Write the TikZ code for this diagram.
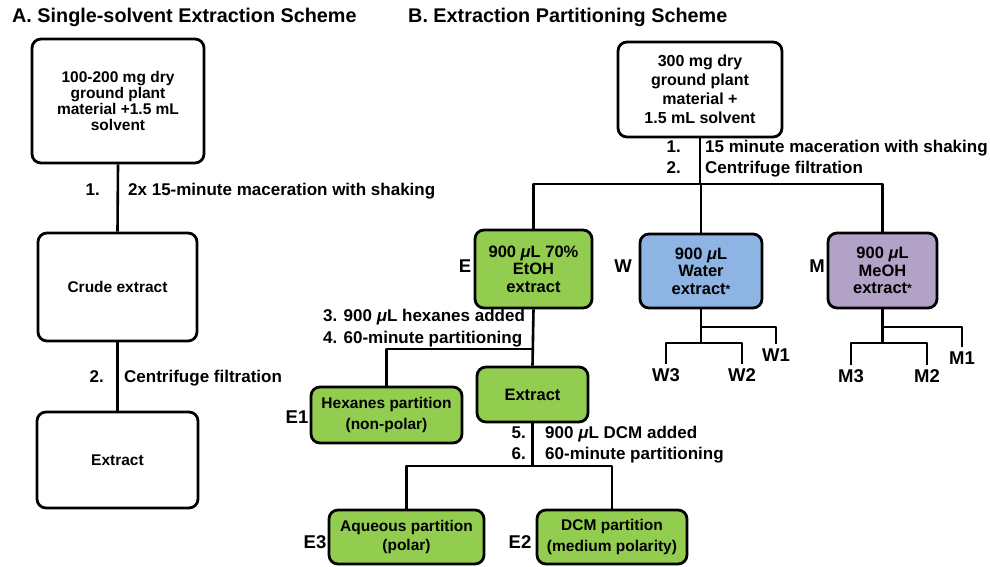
\documentclass[tikz,border=0pt]{standalone}
\usepackage{fontspec}
\setmainfont{Liberation Sans}
\definecolor{gfill}{RGB}{146,205,80}
\definecolor{bfill}{RGB}{141,180,226}
\definecolor{pfill}{RGB}{179,162,199}
\newcommand{\fsz}[2]{\fontsize{#1}{#2}\selectfont\bfseries}
\newcommand{\myast}{\raisebox{1pt}{\fontsize{12}{12}\selectfont *}}
\begin{document}
\begin{tikzpicture}[x=1pt,y=-1pt,line join=round]
\useasboundingbox (0,0) rectangle (990,567);
\tikzset{
  bx/.style={draw=black, line width=2.8pt, rounded corners=9pt, align=center, inner sep=0pt},
  cn/.style={line width=2.6pt},
  tx/.style={inner sep=0pt, font=\fsz{17}{17}},
  lb/.style={inner sep=0pt, font=\fsz{18.5}{18.5}},
  ttl/.style={inner sep=0pt, anchor=base west, font=\fsz{19.8}{20}},
}
% titles
\node[ttl] (tA) at (12,23) {A. Single-solvent Extraction Scheme};
\node[ttl] (tB) at (408,23) {B. Extraction Partitioning Scheme};

% ---------- panel A ----------
\node[bx, minimum width=172pt, minimum height=124pt, font=\fsz{15.5}{16.3}] (A1) at (118,101)
  {100-200 mg dry\\ground plant\\material +1.5 mL\\solvent};
\node[bx, minimum width=159pt, minimum height=108pt, font=\fsz{15.5}{16}] (A2) at (117.5,287) {Crude extract};
\node[bx, minimum width=161pt, minimum height=96pt, font=\fsz{15.5}{16}] (A3) at (117.5,460) {Extract};
\draw[cn] (A1.south) -- (A2.north);
\draw[cn] (A2.south) -- (A3.north);
\node[tx, anchor=base east] (a1n) at (100,195) {1.};
\node[tx, anchor=base west] (a1s) at (128,195) {2x 15-minute maceration with shaking};
\node[tx, anchor=base east] (a2n) at (104,382) {2.};
\node[tx, anchor=base west] (a2s) at (124,382) {Centrifuge filtration};

% ---------- panel B ----------
\node[bx, minimum width=164pt, minimum height=95pt, font=\fsz{16}{19}] (T) at (700,89.5)
  {300 mg dry\\ground plant\\material +\\1.5 mL solvent};
\node[tx, anchor=base east] (b1n) at (681,152) {1.};
\node[tx, anchor=base east] (b2n) at (681,173) {2.};
\node[tx, anchor=base west] (b1s) at (705,152) {15 minute maceration with shaking};
\node[tx, anchor=base west] (b2s) at (705,173) {Centrifuge filtration};

\node[bx, fill=gfill, minimum width=117pt, minimum height=78pt, font=\fsz{16.5}{17.5}] (E) at (533.5,269)
  {900 \textit{μ}L 70\%\\EtOH\\extract};
\node[bx, fill=bfill, minimum width=122pt, minimum height=74pt, font=\fsz{16.5}{17.5}] (W) at (701,271)
  {900 \textit{μ}L\\Water\\extract\myast};
\node[bx, fill=pfill, minimum width=109pt, minimum height=75pt, font=\fsz{16.5}{17.5}] (M) at (882.5,270.5)
  {900 \textit{μ}L\\MeOH\\extract\myast};
\node[lb] (lE) at (465,266) {E};
\node[lb] (lW) at (623,266) {W};
\node[lb] (lM) at (817,266) {M};

\coordinate (hb) at (700,184);
\draw[cn] (T.south) -- (hb);
\draw[cn] (E.north) -- (E.north |- hb) -- (M.north |- hb) -- (M.north);
\draw[cn] (W.north) -- (W.north |- hb);

% E branch
\node[bx, fill=gfill, minimum width=111pt, minimum height=55pt, font=\fsz{16.5}{17}] (X) at (532.5,394.5) {Extract};
\node[bx, fill=gfill, minimum width=151pt, minimum height=56pt, font=\fsz{15.5}{21}] (H) at (386.5,415)
  {Hexanes partition\\(non-polar)};
\node[bx, fill=gfill, minimum width=155pt, minimum height=54pt, font=\fsz{15.5}{19.5}] (Aq) at (406.5,537)
  {Aqueous partition\\(polar)};
\node[bx, fill=gfill, minimum width=150pt, minimum height=54pt, font=\fsz{15.5}{20.5}] (D) at (612,537)
  {DCM partition\\(medium polarity)};
\node[lb] (lE1) at (297,417) {E1};
\node[lb] (lE3) at (315,542) {E3};
\node[lb] (lE2) at (520,542) {E2};

\coordinate (hx) at (533,349);
\draw[cn] (E.south) -- (X.north);
\draw[cn] (H.north) |- (hx);
\node[tx, anchor=base west] (s3) at (323,321) {3. 900 \textit{μ}L hexanes added};
\node[tx, anchor=base west] (s4) at (323,343) {4. 60-minute partitioning};

\coordinate (bx) at (532.5,466);
\draw[cn] (X.south) -- (bx);
\draw[cn] (Aq.north) |- (bx) -| (D.north);
\node[tx, anchor=base east] (n5) at (526,438) {5.};
\node[tx, anchor=base west] (s5) at (545,438) {900 \textit{μ}L DCM added};
\node[tx, anchor=base east] (n6) at (526,459) {6.};
\node[tx, anchor=base west] (s6) at (545,459) {60-minute partitioning};

% W tree
\node[lb, inner sep=4pt] (W1) at (776,355) {W1};
\node[lb, inner sep=4pt] (W3) at (666,375) {W3};
\node[lb, inner sep=4pt] (W2) at (742,375) {W2};
\coordinate (wb) at (701,343);
\draw[cn] (W.south) -- (wb);
\draw[cn] (W.south |- 0,327) -| (W1.north);
\draw[cn] (W3.north) |- (wb) -| (W2.north);

% M tree
\node[lb, inner sep=4pt] (M1) at (962,358) {M1};
\node[lb, inner sep=4pt] (M3) at (851,376) {M3};
\node[lb, inner sep=4pt] (M2) at (927,376) {M2};
\coordinate (mb) at (882.5,343);
\draw[cn] (M.south) -- (mb);
\draw[cn] (M.south |- 0,327) -| (M1.north);
\draw[cn] (M3.north) |- (mb) -| (M2.north);
\end{tikzpicture}
\end{document}
